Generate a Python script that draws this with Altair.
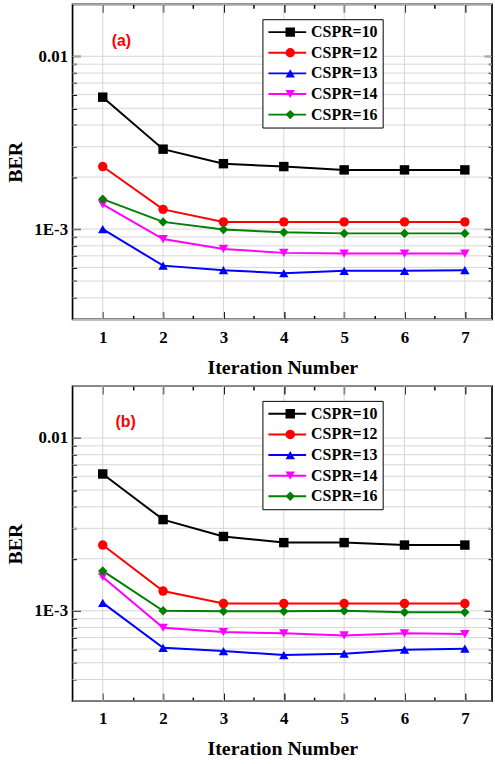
import altair as alt
import pandas as pd

iterations = [1, 2, 3, 4, 5, 6, 7]
x_minor = [1.5, 2.5, 3.5, 4.5, 5.5, 6.5]
series_names = ["CSPR=10", "CSPR=12", "CSPR=13", "CSPR=14", "CSPR=16"]
colors = ["#000000", "#FF0000", "#0000FF", "#FF00FF", "#008000"]
shapes = ["square", "circle", "triangle-up", "triangle-down", "diamond"]

# panel (a)
a_cspr10 = [5.8e-3, 2.9e-3, 2.39e-3, 2.30e-3, 2.20e-3, 2.20e-3, 2.20e-3]
a_cspr12 = [2.3e-3, 1.30e-3, 1.10e-3, 1.10e-3, 1.10e-3, 1.10e-3, 1.10e-3]
a_cspr13 = [1.0e-3, 6.14e-4, 5.78e-4, 5.55e-4, 5.73e-4, 5.73e-4, 5.78e-4]
a_cspr14 = [1.39e-3, 8.75e-4, 7.67e-4, 7.28e-4, 7.21e-4, 7.21e-4, 7.21e-4]
a_cspr16 = [1.49e-3, 1.10e-3, 9.95e-4, 9.57e-4, 9.44e-4, 9.44e-4, 9.44e-4]

# panel (b)
b_cspr10 = [6.19e-3, 3.37e-3, 2.69e-3, 2.48e-3, 2.48e-3, 2.40e-3, 2.40e-3]
b_cspr12 = [2.40e-3, 1.30e-3, 1.10e-3, 1.10e-3, 1.10e-3, 1.10e-3, 1.10e-3]
b_cspr13 = [1.11e-3, 6.10e-4, 5.84e-4, 5.54e-4, 5.64e-4, 5.95e-4, 6.03e-4]
b_cspr14 = [1.57e-3, 7.97e-4, 7.53e-4, 7.40e-4, 7.20e-4, 7.40e-4, 7.33e-4]
b_cspr16 = [1.70e-3, 1.0e-3, 9.94e-4, 9.94e-4, 1.0e-3, 9.8e-4, 9.8e-4]

y_grid = [3e-4, 4e-4, 5e-4, 6e-4, 7e-4, 8e-4, 9e-4,
          1e-3, 2e-3, 3e-3, 4e-3, 5e-3, 6e-3, 7e-3, 8e-3, 9e-3, 1e-2, 2e-2]
y_ticks = [4e-4, 5e-4, 6e-4, 7e-4, 8e-4, 9e-4,
           1e-3, 2e-3, 3e-3, 4e-3, 5e-3, 6e-3, 7e-3, 8e-3, 9e-3, 1e-2]
y_labels = [1e-3, 1e-2]

W = 422
H = 317
SERIF = "Liberation Serif"


def panel_df(values):
    rows = []
    for name, vals in zip(series_names, values):
        for it, v in zip(iterations, vals):
            rows.append({"iter": it, "ber": v, "series": name, "series_p": name})
    return pd.DataFrame(rows)


def make_panel(df, tag, tag_x, tag_y):
    ysc = alt.Scale(type="log", domain=[3e-4, 2e-2], nice=False)
    xsc = alt.Scale(domain=[0.5, 7.45], nice=False, zero=False)

    y_major_test = "datum.value == 0.01 || datum.value == 0.001"
    x_major_test = "datum.value % 1 == 0"

    label_y_axis = alt.Axis(
        orient="left", values=y_labels, ticks=False, domain=False, grid=False,
        labelExpr="datum.value > 0.005 ? '0.01' : '1E-3'",
        labelFont=SERIF, labelFontWeight="bold", labelFontSize=17, labelColor="black",
        labelPadding=5, title="BER", titleFont=SERIF, titleFontWeight="bold",
        titleFontSize=20, titleColor="black", titlePadding=8)
    label_x_axis = alt.Axis(
        orient="bottom", values=iterations, ticks=False, domain=False, grid=False,
        format="d", labelFont=SERIF, labelFontWeight="bold", labelFontSize=17,
        labelColor="black", labelPadding=10, title="Iteration Number",
        titleFont=SERIF, titleFontWeight="bold", titleFontSize=20,
        titleColor="black", titlePadding=12)

    def tick_axis(orient, values, test, off):
        return alt.Axis(
            orient=orient, values=values, labels=False, domain=False, grid=False,
            title=None, offset=-off, tickColor="black", tickWidth=1.5,
            tickSize={"condition": {"test": test, "value": 8}, "value": 4})

    grid_y = alt.Chart(pd.DataFrame({"g": y_grid})).mark_rule(
        color="#d6d6d6", strokeWidth=1).encode(
        y=alt.Y("g:Q", scale=ysc, axis=label_y_axis))
    grid_x = alt.Chart(pd.DataFrame({"g": iterations})).mark_rule(
        color="#d6d6d6", strokeWidth=1).encode(
        x=alt.X("g:Q", scale=xsc, axis=label_x_axis))

    legA = alt.Legend(
        title=None, orient="none", legendX=191, legendY=15,
        symbolType="stroke", symbolSize=1444, symbolStrokeWidth=2, clipHeight=16,
        labelFont=SERIF, labelFontWeight="bold", labelFontSize=16,
        labelColor="black", labelOffset=4, rowPadding=4.75, padding=5,
        strokeColor="black", fillColor="white")
    legB = alt.Legend(
        title=None, orient="none", legendX=206, legendY=15,
        symbolSize=90, symbolStrokeWidth=0, symbolOpacity=1, clipHeight=16,
        labelExpr="''", labelFontSize=16, labelOffset=4, rowPadding=4.75, padding=5)

    lines = alt.Chart(df).mark_line(strokeWidth=2).encode(
        x=alt.X("iter:Q", scale=xsc, axis=tick_axis("top", iterations + x_minor, x_major_test, H)),
        y=alt.Y("ber:Q", scale=ysc, axis=tick_axis("right", y_ticks, y_major_test, W)),
        color=alt.Color("series:N", scale=alt.Scale(range=colors), legend=legA),
    )
    points = alt.Chart(df).mark_point(filled=True, size=90, opacity=1).encode(
        x=alt.X("iter:Q", scale=xsc, axis=tick_axis("bottom", iterations + x_minor, x_major_test, H)),
        y=alt.Y("ber:Q", scale=ysc, axis=tick_axis("left", y_ticks, y_major_test, W)),
        fill=alt.Fill("series_p:N", scale=alt.Scale(range=colors), legend=legB),
        shape=alt.Shape("series_p:N", scale=alt.Scale(range=shapes), legend=legB),
    )
    tag_text = alt.Chart(pd.DataFrame({"x": [tag_x], "y": [tag_y], "t": [tag]})).mark_text(
        color="#FF0000", font="Liberation Sans", fontWeight="bold", fontSize=16).encode(
        x=alt.X("x:Q", scale=xsc, axis=None),
        y=alt.Y("y:Q", scale=ysc, axis=None),
        text="t:N")

    return alt.layer(grid_y, grid_x, lines, points, tag_text).resolve_axis(
        x="independent", y="independent").properties(width=W, height=H)


panel_a = make_panel(panel_df([a_cspr10, a_cspr12, a_cspr13, a_cspr14, a_cspr16]),
                     "(a)", 1.31, 0.0123)
panel_b = make_panel(panel_df([b_cspr10, b_cspr12, b_cspr13, b_cspr14, b_cspr16]),
                     "(b)", 1.38, 0.0123)

chart = alt.vconcat(panel_a, panel_b, spacing=6).resolve_scale(
    color="independent", fill="independent", shape="independent").resolve_legend(
    color="independent", fill="independent", shape="independent").configure_view(
    stroke="black", strokeWidth=1.7).properties(
    padding={"left": 5, "top": 0, "right": 1, "bottom": 3})

chart.save("out.html", embed_options={"renderer": "svg", "actions": False})
